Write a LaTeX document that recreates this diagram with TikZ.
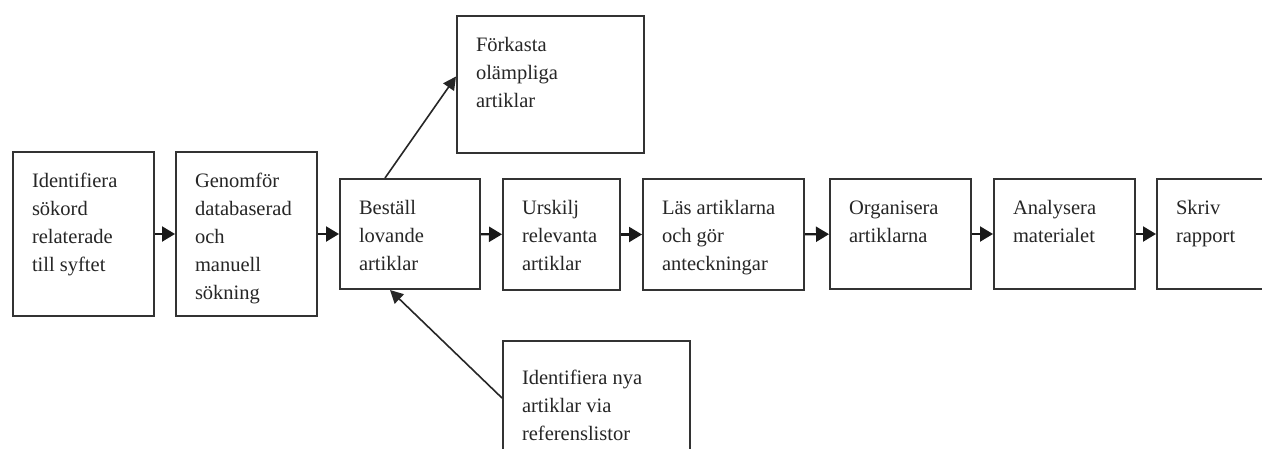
\documentclass[tikz,border=0pt]{standalone}
\usepackage{fontspec}
\setmainfont{Liberation Serif}
\usetikzlibrary{arrows.meta}

\newcommand{\stagetext}[4][21pt]{\parbox[t][#3pt][t]{#2pt}{\raggedright\vspace*{#1}\rule{0pt}{14pt}#4}}

\begin{document}
\begin{tikzpicture}[x=1pt, y=-1pt,
    stage/.style={draw=black!80, line width=2pt, inner xsep=19pt, inner ysep=0pt,
      anchor=north west, text=black!85, font=\fontsize{20.5}{28}\selectfont},
    flow/.style={draw=black!90, line width=2.2pt, -{Triangle[length=13pt,width=15pt]}},
    side/.style={draw=black!85, line width=1.6pt, -{Triangle[length=13pt,width=13pt]}}]
  \clip (0,0) rectangle (1262,448);
  \fill[white] (0,0) rectangle (1262,448);
  % main chain
  \node[stage] (ident) at (12,151) {\stagetext{103}{164}{Identifiera\\sökord\\relaterade\\till syftet}};
  \node[stage] (genom) at (175,151) {\stagetext{103}{164}{Genomför\\databaserad\\och\\manuell\\sökning}};
  \node[stage] (best) at (339,178) {\stagetext{102}{110}{Beställ\\lovande\\artiklar}};
  \node[stage] (ursk) at (502,178) {\stagetext{79}{111}{Urskilj\\relevanta\\artiklar}};
  \node[stage] (las) at (642,178) {\stagetext{123}{111}{Läs artiklarna\\och gör\\anteckningar}};
  \node[stage] (org) at (829,178) {\stagetext{103}{110}{Organisera\\artiklarna}};
  \node[stage] (anal) at (993,178) {\stagetext{103}{110}{Analysera\\materialet}};
  \node[stage] (skriv) at (1156,178) {\stagetext{140}{110}{Skriv\\rapport}};
  % side boxes
  \node[stage] (fork) at (456,15) {\stagetext{149}{137}{Förkasta\\olämpliga\\artiklar}};
  \node[stage] (nya) at (502,340) {\stagetext[29pt]{149}{130}{Identifiera nya\\artiklar via\\referenslistor}};
  \begin{scope}[flow]
    \draw (ident) to (genom);
    \draw (genom) to (best);
    \draw (best) to (ursk);
    \draw (ursk) to (las);
    \draw (las) to (org);
    \draw (org) to (anal);
    \draw (anal) to (skriv);
  \end{scope}
  \draw[side] ([xshift=46pt]best.north west) to ([yshift=8pt]fork.west);
  \draw[side] ([yshift=8pt]nya.west) to ([xshift=51pt]best.south west);
\end{tikzpicture}
\end{document}
